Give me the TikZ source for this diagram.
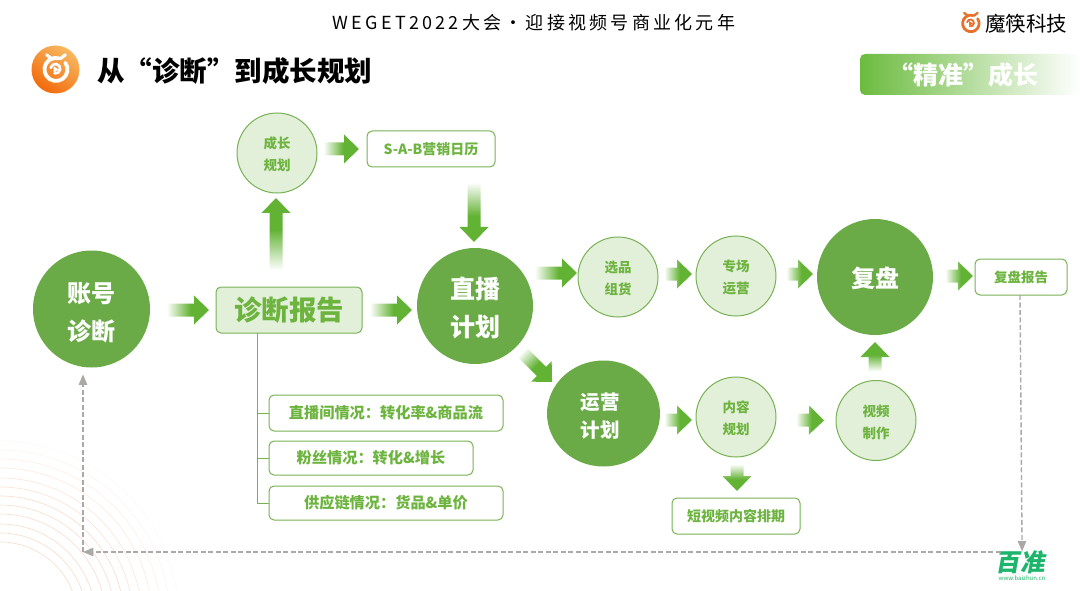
\documentclass[tikz,border=0pt]{standalone}
\usepackage{fontspec}
\setmainfont{Noto Sans CJK SC}
\definecolor{darkgreen}{HTML}{6AAB47}
\definecolor{palegreen}{HTML}{E2EFD9}
\definecolor{edgegreen}{HTML}{78B254}
\definecolor{textgreen}{HTML}{6DB43F}
\definecolor{arrowgreen}{HTML}{62B233}
\definecolor{bargreen}{HTML}{6CBB3F}
\definecolor{loopgrey}{HTML}{ABA8A8}
\definecolor{markorange}{HTML}{E8702A}
\definecolor{lightorange}{HTML}{F8B860}
\definecolor{deeporange}{HTML}{F26A0C}
\definecolor{logogreen}{HTML}{1DB56C}
\usetikzlibrary{arrows}
\usetikzlibrary{calc}
\usetikzlibrary{shapes.geometric}
\pgfdeclarehorizontalshading{arrowfade}{100bp}{color(0bp)=(white); color(27bp)=(white); color(54bp)=(arrowgreen); color(100bp)=(arrowgreen)}
\tikzstyle{base}=[inner sep=0pt, outer sep=0pt, x=1pt, y=-1pt]
\tikzstyle{bigcircle}=[circle, fill=darkgreen, text=white, align=center, minimum size=116pt]
\tikzstyle{smallcircle}=[circle, draw=edgegreen, line width=1pt, fill=palegreen, text=textgreen, align=center, minimum size=80pt, font=\fontsize{13.5}{22}\selectfont\bfseries]
\tikzstyle{labelbox}=[rectangle, rounded corners=5pt, draw=edgegreen, line width=1pt, fill=white, text=textgreen, align=center, font=\fontsize{14}{16}\selectfont\bfseries]
\tikzstyle{listbox}=[labelbox, font=\fontsize{15.2}{17}\selectfont\bfseries]
\tikzstyle{loopline}=[loopgrey, line width=1.4pt, dash pattern=on 5pt off 2.5pt]
% pushes the text of a round node down
\newcommand*{\lift}[1]{\rule{0pt}{#1pt}}
% block arrow that fades out towards its tail
\newcommand*{\fadearrow}[2]{
    \path let \p1=(#1), \p2=(#2), \n1={atan2(\y2-\y1,\x2-\x1)}, \n2={veclen(\x2-\x1,\y2-\y1)} in
        \pgfextra{\xdef\arrowangle{\n1}\xdef\arrowlen{\n2}\xdef\arrowx{\x1}\xdef\arrowy{\y1}};
    \begin{scope}[shift={(\arrowx,\arrowy)}, rotate=\arrowangle]
        \shade [shading=arrowfade, shading angle=\arrowangle] (0pt,-6.5pt) -- ({\arrowlen-15pt},-6.5pt) -- ({\arrowlen-15pt},-14.5pt) -- (\arrowlen,0pt) -- ({\arrowlen-15pt},14.5pt) -- ({\arrowlen-15pt},6.5pt) -- (0pt,6.5pt) -- cycle;
    \end{scope}
}
% company mark, radius #3
\newcommand*{\spiralmark}[4]{
    \begin{scope}[shift={(#1,#2)}, x=#3pt, y=#3pt, line cap=round]
        \draw [#4, line width=0.24*#3pt] (0.62,0.42) arc (35:-285:0.72);
        \draw [#4, line width=0.2*#3pt] (-0.55,0.92) -- (-0.25,0.68);
        \draw [#4, line width=0.2*#3pt] (0.62,0.92) -- (0.3,0.68);
        \draw [#4, line width=0.16*#3pt] (-0.3,0.1) arc (170:-100:0.3);
        \fill [#4] (-0.12,0.2) -- (0.22,0) -- (-0.12,-0.2) -- cycle;
    \end{scope}
}

\begin{document}
\begin{tikzpicture}[base]
    \path [use as bounding box] (0,0) rectangle (1080,591);
    \begin{scope}
        \clip (0,0) rectangle (1080,591);
        \foreach \ring [count=\ringno] in {78,87,96,106,115,124,133,142,152,161,170,179} {
            \pgfmathsetmacro{\ringfade}{\ringno < 7 ? 0.22 : 0.22 - 0.03*(\ringno - 6)}
            \draw [markorange, line width=0.7pt, opacity=\ringfade] (0,620) circle [radius=\ring pt];
        }
    \end{scope}

    \node [font=\fontsize{18}{20}\selectfont] (headline) at (534,23) {\addfontfeature{LetterSpace=18}WEGET2022大会·迎接视频号商业化元年};
    \node [font=\fontsize{20.5}{22}\selectfont, anchor=west] (company) at (985,24) {魔筷科技};
    \node [font=\fontsize{27.5}{30}\selectfont\bfseries, anchor=west] (pagetitle) at (97,71) {从“诊断”到成长规划};
    \shade [left color=lightorange, right color=deeporange, shading angle=-35] (55.5,69.5) circle [radius=24pt];
    \spiralmark{55.5}{69.5}{16}{white}
    \spiralmark{970.5}{23.5}{11.5}{markorange}
    \node [rectangle, rounded corners=5pt, left color=bargreen, right color=white, minimum width=220pt, minimum height=41pt, text=white, font=\fontsize{25}{28}\selectfont\bfseries] (precise) at (970,74.5) {“精准”成长\kern13pt};

    \node [bigcircle, minimum size=117pt, font=\fontsize{24}{38}\selectfont\bfseries] (zhanghao) at (91.5,309) {\lift{27}账号\\诊断};
    \node [labelbox, fill=palegreen, minimum width=146pt, minimum height=46pt, font=\fontsize{27.5}{30}\selectfont\bfseries] (baogao) at (289,310) {诊断报告};
    \node [smallcircle] (chengzhang) at (277,153) {\lift{15}成长\\规划};
    \node [labelbox, minimum width=128pt, minimum height=36pt] (rili) at (431,149) {S-A-B营销日历};
    \node [bigcircle, font=\fontsize{25}{38}\selectfont\bfseries] (zhibo) at (475,306) {\lift{26}直播\\计划};
    \node [smallcircle] (xuanpin) at (618,277) {\lift{15}选品\\组货};
    \node [smallcircle] (zhuanchang) at (736,276) {\lift{15}专场\\运营};
    \node [bigcircle, font=\fontsize{24}{28}\selectfont\bfseries] (fupan) at (875,277) {\lift{24}复盘};
    \node [labelbox, minimum width=92pt, minimum height=36pt, font=\fontsize{13.5}{16}\selectfont\bfseries] (fupanbaogao) at (1021,277) {复盘报告};
    \node [ellipse, fill=darkgreen, text=white, align=center, minimum width=113pt, minimum height=106pt, font=\fontsize{19.5}{28}\selectfont\bfseries] (yunying) at (603.5,413.5) {\lift{21}运营\kern7pt\\计划\kern7pt};
    \node [smallcircle] (neirong) at (736,417) {\lift{15}内容\\规划};
    \node [smallcircle] (shipin) at (876,420.5) {\lift{15}视频\\制作};
    \node [labelbox, minimum width=128pt, minimum height=36pt] (paiqi) at (736,516) {短视频内容排期};
    \node [listbox, minimum width=234pt, minimum height=36pt] (zhuanhua) at (386,413) {直播间情况：转化率\&商品流};
    \node [listbox, minimum width=204pt, minimum height=34pt] (fensi) at (371,458) {粉丝情况：转化\&增长};
    \node [listbox, minimum width=234pt, minimum height=34pt] (gongying) at (386,503) {供应链情况：货品\&单价};

    \draw [edgegreen, line width=1pt] ([xshift=-32pt]baogao.south) |- (zhuanhua.west);
    \draw [edgegreen, line width=1pt] ([xshift=-32pt]baogao.south) |- (fensi.west);
    \draw [edgegreen, line width=1pt] ([xshift=-32pt]baogao.south) |- (gongying.west);

    \fadearrow{[xshift=15pt,yshift=-1pt]zhanghao.east}{[xshift=-7pt]baogao.west}
    \fadearrow{[xshift=6pt]baogao.east}{[xshift=-5pt,yshift=-4pt]zhibo.west}
    \fadearrow{[xshift=-13pt,yshift=14pt]baogao.north}{[xshift=-1pt,yshift=-5pt]chengzhang.south}
    \fadearrow{[xshift=5pt,yshift=4pt]chengzhang.east}{[xshift=-8pt]rili.west}
    \fadearrow{[xshift=43pt,yshift=-13pt]rili.south}{[xshift=-1pt,yshift=6pt]zhibo.north}
    \fadearrow{[yshift=33pt]zhibo.east}{[xshift=-1pt,yshift=4pt]xuanpin.west}
    \fadearrow{[xshift=5pt,yshift=3pt]xuanpin.east}{[xshift=-4pt,yshift=2pt]zhuanchang.west}
    \fadearrow{[xshift=9pt,yshift=2pt]zhuanchang.east}{[xshift=-4pt,yshift=3pt]fupan.west}
    \fadearrow{[xshift=11pt,yshift=1pt]fupan.east}{[xshift=-2pt,yshift=1pt]fupanbaogao.west}
    \fadearrow{[xshift=3pt,yshift=-6.5pt]yunying.east}{[xshift=-4pt,yshift=-3pt]neirong.west}
    \fadearrow{[xshift=19pt,yshift=-3pt]neirong.east}{[xshift=-12pt]shipin.west}
    \fadearrow{[xshift=-1pt,yshift=8pt]shipin.north}{[yshift=-7pt]fupan.south}
    \fadearrow{[xshift=1pt,yshift=-6pt]neirong.south}{[xshift=1pt,yshift=7pt]paiqi.north}
    \fadearrow{[xshift=4pt,yshift=-3pt]zhibo.south east}{[xshift=-11.5pt,yshift=-6pt]yunying.north west}

    \node [text=logogreen, xslant=0.18, font=\fontsize{24.5}{26}\selectfont\bfseries] (baizhun) at (1022,562) {百准};
    \node [text=logogreen, font=\fontsize{6}{7}\selectfont] (baizhunurl) at (1022,578) {www.baizhun.cn};
    \coordinate (loopcorner) at (83,552);
    \draw [loopline, -triangle 45] ([xshift=-1pt]fupanbaogao.south) -- ([xshift=-2pt,yshift=-1pt]baizhun.north);
    \draw [loopline, -triangle 45] ([xshift=3pt,yshift=10pt]baizhun.west) -- (loopcorner);
    \draw [loopline, -triangle 45] (loopcorner) -- ([xshift=-8.5pt,yshift=-7pt]zhanghao.south);
\end{tikzpicture}
\end{document}
